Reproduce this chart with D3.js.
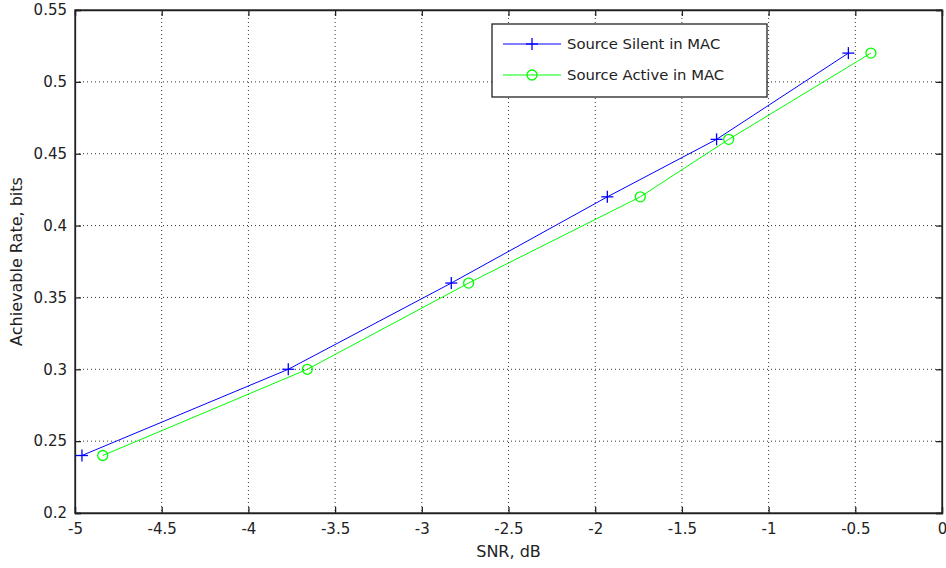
<!DOCTYPE html>
<html><head><meta charset="utf-8">
<script src="https://cdn.jsdelivr.net/npm/d3@7"></script>
<style>
body{margin:0;background:#fff;}
text{font-family:"DejaVu Sans",Verdana,sans-serif;fill:#222;}
</style></head><body>
<svg id="c" width="946" height="568"></svg>
<script>
const silentX = [-4.96, -3.77, -2.83, -1.93, -1.30, -0.54];
const silentY = [0.24, 0.30, 0.36, 0.42, 0.46, 0.52];
const activeX = [-4.84, -3.66, -2.73, -1.74, -1.23, -0.41];
const activeY = [0.24, 0.30, 0.36, 0.42, 0.46, 0.52];
const xTicks = [-5, -4.5, -4, -3.5, -3, -2.5, -2, -1.5, -1, -0.5, 0];
const yTicks = [0.2, 0.25, 0.3, 0.35, 0.4, 0.45, 0.5, 0.55];
const seriesNames = ["Source Silent in MAC", "Source Active in MAC"];

const svg = d3.select("#c");
const L = 75, R = 942, T = 10, B = 513;
const x = d3.scaleLinear().domain([-5, 0]).range([L, R]);
const y = d3.scaleLinear().domain([0.2, 0.55]).range([B, T]);

// grid
const g = svg.append("g");
g.selectAll(".gx").data(xTicks.slice(1, -1)).enter().append("line")
  .attr("x1", d => x(d)).attr("x2", d => x(d)).attr("y1", T).attr("y2", B)
  .attr("stroke", "#333").attr("stroke-width", 1).attr("stroke-dasharray", "1,3");
g.selectAll(".gy").data(yTicks.slice(1, -1)).enter().append("line")
  .attr("y1", d => y(d)).attr("y2", d => y(d)).attr("x1", L).attr("x2", R)
  .attr("stroke", "#333").attr("stroke-width", 1).attr("stroke-dasharray", "1,3");

// axes
const xa = svg.append("g").attr("transform", `translate(0,${B})`)
  .call(d3.axisBottom(x).tickValues(xTicks).tickSize(-6).tickPadding(10).tickFormat(d => String(d)));
const xt = svg.append("g").attr("transform", `translate(0,${T})`)
  .call(d3.axisTop(x).tickValues(xTicks).tickSize(-6).tickFormat(""));
const ya = svg.append("g").attr("transform", `translate(${L},0)`)
  .call(d3.axisLeft(y).tickValues(yTicks).tickSize(-6).tickPadding(8).tickFormat(d => String(+d.toFixed(2))));
const yr = svg.append("g").attr("transform", `translate(${R},0)`)
  .call(d3.axisRight(y).tickValues(yTicks).tickSize(-6).tickFormat(""));
[xa, xt, ya, yr].forEach(a => {
  a.selectAll("path.domain").attr("stroke", "#222").attr("stroke-width", 1.3);
  a.selectAll(".tick line").attr("stroke", "#222").attr("stroke-width", 1.3);
  a.selectAll("text").style("font-size", "15px").attr("fill", "#222").style("font-family", "DejaVu Sans, sans-serif");
});
svg.append("rect").attr("x", L).attr("y", T).attr("width", R - L).attr("height", B - T)
  .attr("fill", "none").attr("stroke", "#222").attr("stroke-width", 1.3);

// labels
svg.append("text").attr("x", (L + R) / 2).attr("y", 557).attr("text-anchor", "middle")
  .style("font-size", "16px").text("SNR, dB");
svg.append("text").attr("transform", `translate(22,${(T + B) / 2}) rotate(-90)`).attr("text-anchor", "middle")
  .style("font-size", "16px").text("Achievable Rate, bits");

// lines
const line = d3.line().x(d => x(d[0])).y(d => y(d[1]));
const sData = silentX.map((v, i) => [v, silentY[i]]);
const aData = activeX.map((v, i) => [v, activeY[i]]);
svg.append("path").datum(sData).attr("d", line).attr("fill", "none").attr("stroke", "#0000ff").attr("stroke-width", 1);
svg.append("path").datum(aData).attr("d", line).attr("fill", "none").attr("stroke", "#00ff00").attr("stroke-width", 1);

function plus(sel, cx, cy, col) {
  sel.append("line").attr("x1", cx - 6).attr("x2", cx + 6).attr("y1", cy).attr("y2", cy).attr("stroke", col).attr("stroke-width", 1.3);
  sel.append("line").attr("x1", cx).attr("x2", cx).attr("y1", cy - 6).attr("y2", cy + 6).attr("stroke", col).attr("stroke-width", 1.3);
}
sData.forEach(d => plus(svg, x(d[0]), y(d[1]), "#0000ff"));
svg.selectAll(".cm").data(aData).enter().append("circle")
  .attr("cx", d => x(d[0])).attr("cy", d => y(d[1])).attr("r", 5)
  .attr("fill", "none").attr("stroke", "#00ff00").attr("stroke-width", 1.3);

// legend
const lg = svg.append("g");
lg.append("rect").attr("x", 492).attr("y", 24).attr("width", 275).attr("height", 73)
  .attr("fill", "#fff").attr("stroke", "#222").attr("stroke-width", 1.3);
const rows = [44, 75];
lg.append("line").attr("x1", 503).attr("x2", 561).attr("y1", rows[0]).attr("y2", rows[0]).attr("stroke", "#0000ff");
plus(lg, 532, rows[0], "#0000ff");
lg.append("line").attr("x1", 503).attr("x2", 561).attr("y1", rows[1]).attr("y2", rows[1]).attr("stroke", "#00ff00");
lg.append("circle").attr("cx", 532).attr("cy", rows[1]).attr("r", 5).attr("fill", "none").attr("stroke", "#00ff00").attr("stroke-width", 1.3);
seriesNames.forEach((n, i) => lg.append("text").attr("x", 567).attr("y", rows[i] + 5).style("font-size", "14.8px").text(n));
</script></body></html>
